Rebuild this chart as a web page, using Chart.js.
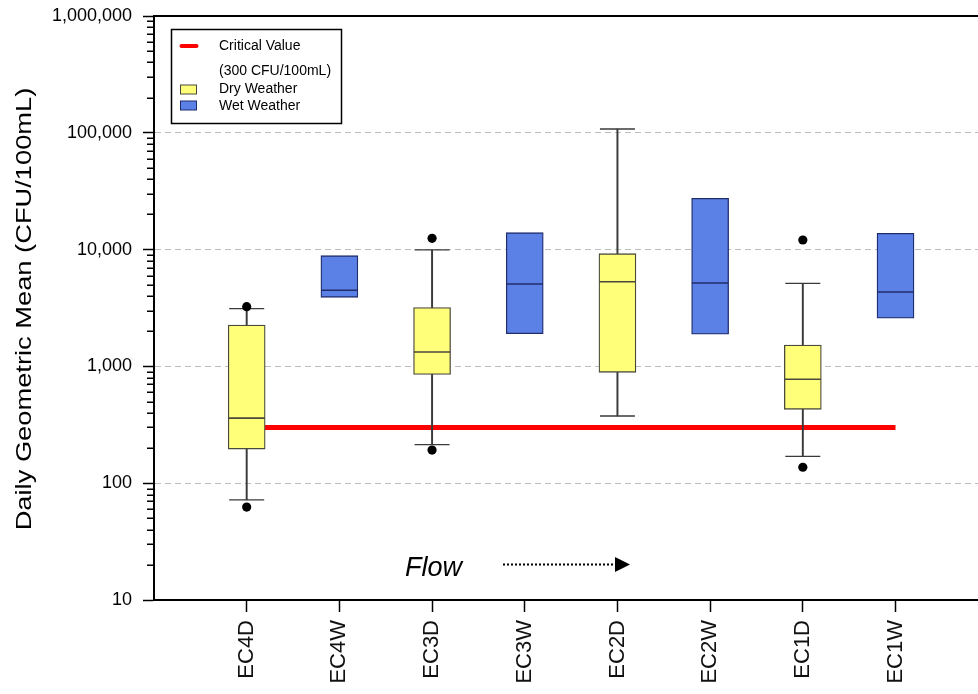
<!DOCTYPE html>
<html>
<head>
<meta charset="utf-8">
<script src="https://cdn.jsdelivr.net/npm/chart.js@4/dist/chart.umd.min.js"></script>
<style>
html,body{margin:0;padding:0;background:#fff;}
#wrap{width:978px;height:694px;position:relative;}
</style>
</head>
<body>
<div id="wrap"><canvas id="c" width="978" height="694"></canvas></div>
<script>
// ---- data ----
const categories  = ['EC4D','EC4W','EC3D','EC3W','EC2D','EC2W','EC1D','EC1W'];
const q1          = [196, 3905, 855, 1905, 890, 1890, 429, 2582];
const median      = [361, 4483, 1328, 5070, 5310, 5176, 776, 4335];
const q3          = [2261, 8870, 3184, 13960, 9227, 27500, 1525, 13800];
const whiskerLow  = [72, null, 214, null, 376, null, 170, null];
const whiskerHigh = [3119, null, 9930, null, 107800, null, 5145, null];
const outlierCategory = ['EC4D','EC4D','EC3D','EC3D','EC1D','EC1D'];
const outlierValues   = [3245, 62.5, 12500, 192, 12080, 137];
const criticalValue = 300;
const yMajorTicks = [10, 100, 1000, 10000, 100000, 1000000];
const yMinorTicks = [];
for (let d = 10; d < 1000000; d *= 10) for (let m = 2; m <= 9; m++) yMinorTicks.push(m * d);
const yTitle = 'Daily Geometric Mean (CFU/100mL)';
const legendLabels = ['Critical Value', '(300 CFU/100mL)', 'Dry Weather', 'Wet Weather'];
const flowLabel = 'Flow';

// ---- styles ----
const FONT = "'Liberation Sans', Arial, Helvetica, sans-serif";
const DRY_FILL = '#ffff7a', DRY_EDGE = '#4a4a3c';
const WET_FILL = '#5b80e6', WET_EDGE = '#1f2d6a';
const WHISKER = '#3a3a3a';

const pos = c => categories.indexOf(c) + 1;
const isDry = c => c.endsWith('D');

const boxes = dry => categories.filter(c => isDry(c) === dry)
  .map(c => { const i = categories.indexOf(c); return {x: i + 1, y: [q1[i], q3[i]]}; });
const whiskers = categories.map((c, i) => whiskerLow[i] == null ? null : {x: i + 1, y: [whiskerLow[i], whiskerHigh[i]]}).filter(Boolean);
const caps = [];
categories.forEach((c, i) => { if (whiskerLow[i] != null) { caps.push({x: i + 1, y: whiskerLow[i]}); caps.push({x: i + 1, y: whiskerHigh[i]}); } });
const medians = categories.map((c, i) => ({x: i + 1, y: median[i]}));
const outliers = outlierCategory.map((c, k) => ({x: pos(c), y: outlierValues[k]}));

const decor = {
  id: 'decor',
  afterDraw(chart) {
    const {ctx, chartArea: a, scales: {y}} = chart;
    ctx.save();
    // top frame line
    ctx.strokeStyle = '#000'; ctx.lineWidth = 2;
    ctx.beginPath(); ctx.moveTo(a.left - 1, a.top); ctx.lineTo(chart.width, a.top); ctx.stroke();

    // minor ticks of the log axis (shorter than the major ones)
    ctx.lineWidth = 1.5;
    ctx.beginPath();
    yMinorTicks.forEach(v => { const py = Math.round(y.getPixelForValue(v)) + 0.25; ctx.moveTo(a.left - 7, py); ctx.lineTo(a.left, py); });
    ctx.stroke();

    // y axis title (stretched along its length like the reference)
    ctx.save();
    ctx.translate(31, (a.top + a.bottom) / 2 + 1);
    ctx.rotate(-Math.PI / 2);
    ctx.scale(1.24, 1);
    ctx.font = '22px ' + FONT; ctx.fillStyle = '#000';
    ctx.textAlign = 'center'; ctx.textBaseline = 'alphabetic';
    ctx.fillText(yTitle, 0, 0);
    ctx.restore();

    // legend
    const lx = a.left + 17.5, ly = a.top + 13.5;
    ctx.fillStyle = '#fff'; ctx.fillRect(lx, ly, 170, 94);
    ctx.strokeStyle = '#000'; ctx.lineWidth = 1.5; ctx.strokeRect(lx, ly, 170, 94);
    ctx.strokeStyle = '#ff0000'; ctx.lineWidth = 4; ctx.lineCap = 'round';
    ctx.beginPath(); ctx.moveTo(lx + 10, ly + 16.5); ctx.lineTo(lx + 25, ly + 16.5); ctx.stroke();
    ctx.lineCap = 'butt';
    ctx.lineWidth = 1;
    ctx.fillStyle = DRY_FILL; ctx.fillRect(lx + 9, ly + 55.5, 16, 9);
    ctx.strokeStyle = DRY_EDGE; ctx.strokeRect(lx + 9, ly + 55.5, 16, 9);
    ctx.fillStyle = WET_FILL; ctx.fillRect(lx + 9, ly + 71.5, 16, 9);
    ctx.strokeStyle = WET_EDGE; ctx.strokeRect(lx + 9, ly + 71.5, 16, 9);
    ctx.fillStyle = '#000'; ctx.font = '14px ' + FONT; ctx.textAlign = 'left'; ctx.textBaseline = 'middle';
    ctx.fillText(legendLabels[0], lx + 47.5, ly + 17);
    ctx.fillText(legendLabels[1], lx + 47.5, ly + 42);
    ctx.fillText(legendLabels[2], lx + 47.5, ly + 60);
    ctx.fillText(legendLabels[3], lx + 47.5, ly + 77);

    // Flow annotation
    ctx.font = 'italic 27px ' + FONT; ctx.textBaseline = 'alphabetic'; ctx.fillStyle = '#000';
    ctx.fillText(flowLabel, a.left + 251, a.bottom - 24);
    ctx.strokeStyle = '#000'; ctx.lineWidth = 2; ctx.setLineDash([2, 2]);
    ctx.beginPath(); ctx.moveTo(a.left + 349, a.bottom - 35.5); ctx.lineTo(a.left + 462, a.bottom - 35.5); ctx.stroke();
    ctx.setLineDash([]);
    ctx.beginPath();
    ctx.moveTo(a.left + 461, a.bottom - 43); ctx.lineTo(a.left + 476, a.bottom - 35.5); ctx.lineTo(a.left + 461, a.bottom - 28);
    ctx.closePath(); ctx.fill();
    ctx.restore();
  }
};

new Chart(document.getElementById('c'), {
  type: 'bar',
  data: {
    datasets: [
      { type: 'line', label: 'Critical Value', data: [{x: 1, y: criticalValue}, {x: categories.length, y: criticalValue}],
        borderColor: '#ff0000', borderWidth: 5, pointRadius: 0, order: 6, xAxisID: 'x', yAxisID: 'y' },
      { type: 'bar', label: 'whiskers', data: whiskers, backgroundColor: WHISKER, borderWidth: 0,
        barThickness: 1.3, grouped: false, order: 5, xAxisID: 'x', yAxisID: 'y' },
      { type: 'scatter', label: 'caps', data: caps, pointStyle: 'line', pointRadius: 17.5,
        borderColor: WHISKER, pointBorderColor: WHISKER, pointBorderWidth: 1.3, order: 4, xAxisID: 'x', yAxisID: 'y' },
      { type: 'bar', label: 'Dry Weather', data: boxes(true), backgroundColor: DRY_FILL, borderColor: DRY_EDGE,
        borderWidth: 1.3, borderSkipped: false, barThickness: 37, grouped: false, order: 3, xAxisID: 'x', yAxisID: 'y' },
      { type: 'bar', label: 'Wet Weather', data: boxes(false), backgroundColor: WET_FILL, borderColor: WET_EDGE,
        borderWidth: 1.3, borderSkipped: false, barThickness: 37, grouped: false, order: 3, xAxisID: 'x', yAxisID: 'y' },
      { type: 'scatter', label: 'median', data: medians, pointStyle: 'line', pointRadius: 18.2,
        pointBorderColor: categories.map(c => isDry(c) ? DRY_EDGE : WET_EDGE), pointBorderWidth: 1.6, order: 2, xAxisID: 'x', yAxisID: 'y' },
      { type: 'scatter', label: 'outliers', data: outliers, pointStyle: 'circle', pointRadius: 4.6,
        pointBackgroundColor: '#000', pointBorderColor: '#000', pointBorderWidth: 0, order: 1, xAxisID: 'x', yAxisID: 'y' }
    ]
  },
  options: {
    responsive: false,
    animation: false,
    events: [],
    layout: { autoPadding: false, padding: { top: 16, right: 0, bottom: 0, left: 0 } },
    plugins: { legend: { display: false }, tooltip: { enabled: false } },
    scales: {
      x: {
        type: 'linear', min: 0, max: 8.89, position: 'bottom', offset: false,
        afterFit: s => { s.height = 94; s.paddingLeft = 0; s.paddingRight = 0; },
        afterBuildTicks: s => { s.ticks = categories.map((c, i) => ({value: i + 1})); },
        ticks: { callback: v => categories[v - 1] || '', minRotation: 90, maxRotation: 90, autoSkip: false,
                 font: {family: FONT, size: 22}, color: '#111', padding: 8 },
        grid: { offset: false, drawOnChartArea: false, tickLength: 12, tickColor: '#000', tickWidth: 1.5 },
        border: { display: true, color: '#000', width: 2 }
      },
      y: {
        type: 'logarithmic', min: 10, max: 1000000, position: 'left',
        afterFit: s => { s.width = 154; s.paddingTop = 0; s.paddingBottom = 0; },
        afterBuildTicks: s => { s.ticks = yMajorTicks.map(v => ({value: v, major: true})); },
        ticks: { callback: v => Number(v).toLocaleString('en-US'), autoSkip: false,
                 font: {family: FONT, size: 18}, color: '#000', padding: 11 },
        grid: { color: c => (c.tick && (c.tick.value === 10 || c.tick.value === 1000000)) ? 'rgba(0,0,0,0)' : '#bdbdbd',
                lineWidth: 1, tickLength: 11, tickColor: '#000', tickWidth: 1.5 },
        border: { display: true, color: '#000', width: 2, dash: [6, 4] }
      }
    }
  },
  plugins: [decor]
});
</script>
</body>
</html>
